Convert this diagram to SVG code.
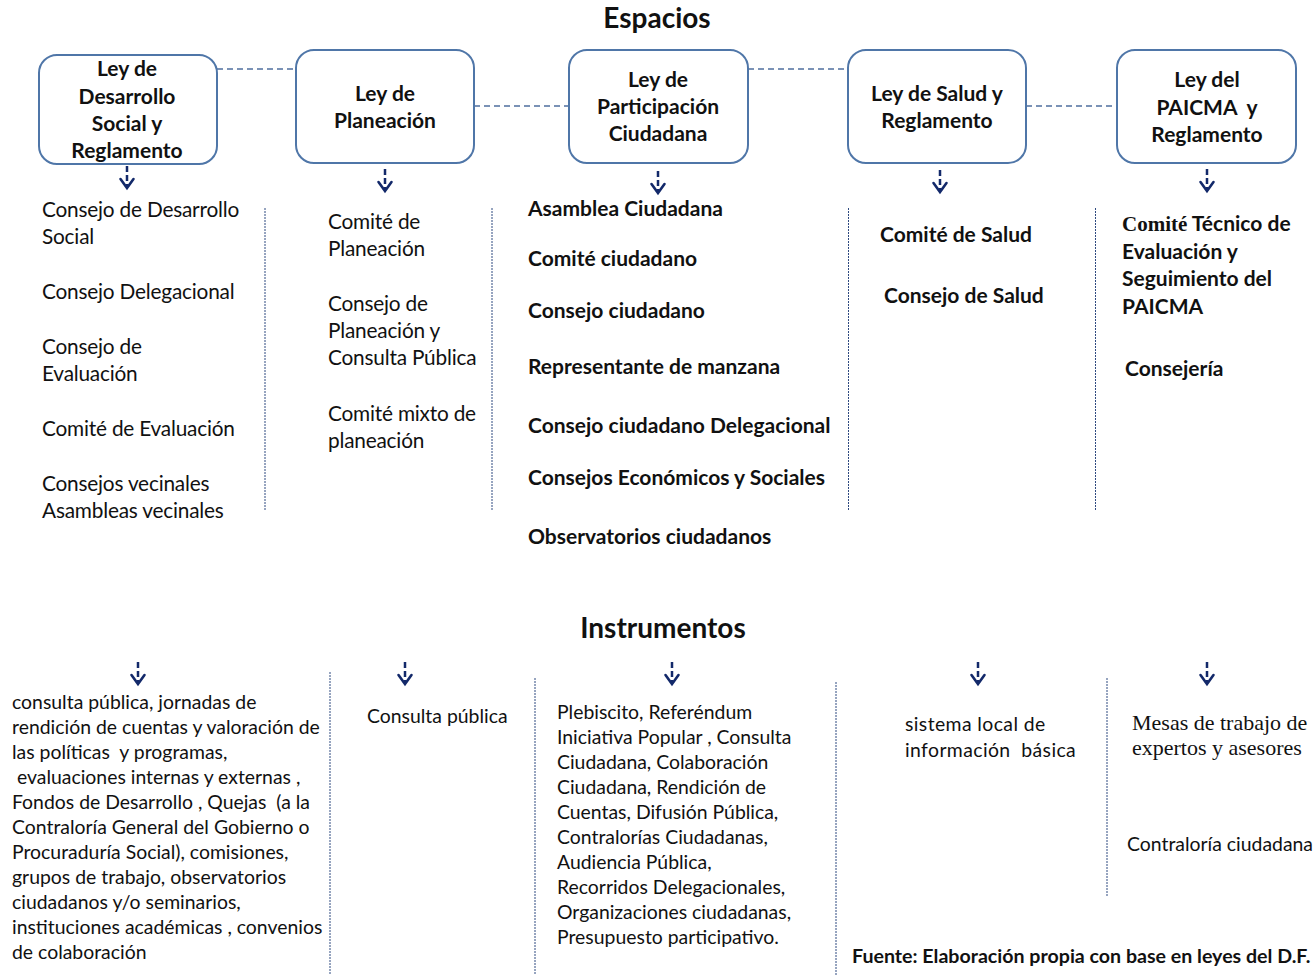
<svg xmlns="http://www.w3.org/2000/svg" width="1316" height="975" viewBox="0 0 1316 975">
  <defs>
    <style>
      .bg { fill: #ffffff; }
      .box { fill: #ffffff; stroke: #4f76a8; stroke-width: 2; }
      .link { stroke: #4f6f9e; stroke-width: 1.3; stroke-dasharray: 6 4; fill: none; }
      .sep { stroke: #2f4a80; stroke-width: 1; stroke-dasharray: 2 1; fill: none; }
      .stem { stroke: #13296a; stroke-width: 2.5; stroke-dasharray: 6 3; fill: none; }
      .head { stroke: #13296a; stroke-width: 2.6; fill: none; stroke-linecap: round; stroke-linejoin: miter; }
      .title { font-family: Lato, "Liberation Sans", sans-serif; font-weight: bold; font-size: 28px; fill: #111; text-anchor: middle; }
      .boxtxt { font-family: Lato, "Liberation Sans", sans-serif; font-weight: bold; font-size: 21px; fill: #111; text-anchor: middle; }
      .reg { font-family: Lato, "Liberation Sans", sans-serif; font-size: 20.8px; fill: #111; letter-spacing: -0.2px; }
      .bold { font-family: Lato, "Liberation Sans", sans-serif; font-weight: bold; font-size: 21px; fill: #111; }
      .small { font-family: Lato, "Liberation Sans", sans-serif; font-size: 19.4px; fill: #111; }
      .serif { font-family: "Liberation Serif", "DejaVu Serif", serif; font-size: 22px; fill: #111; }
      .note { font-family: Lato, "Liberation Sans", sans-serif; font-weight: bold; font-size: 19.6px; fill: #111; }
    </style>
    <g id="arrow">
      <line class="stem" x1="0" y1="0" x2="0" y2="20"/>
      <path class="head" d="M-6.5,13 L0,22 L6.5,13"/>
    </g>
  </defs>

  <rect class="bg" x="0" y="0" width="1316" height="975"/>

  <!-- section titles -->
  <text class="title" x="657" y="28">Espacios</text>
  <text class="title" x="663" y="638">Instrumentos</text>

  <!-- dashed links between the law boxes -->
  <g id="connectors">
    <line class="link" x1="217" y1="69" x2="296" y2="69"/>
    <line class="link" x1="474" y1="106" x2="569" y2="106"/>
    <line class="link" x1="748" y1="69" x2="848" y2="69"/>
    <line class="link" x1="1026" y1="106" x2="1117" y2="106"/>
    <!-- arrows from boxes to spaces -->
    <use href="#arrow" x="127" y="166"/>
    <use href="#arrow" x="385" y="169"/>
    <use href="#arrow" x="658" y="171"/>
    <use href="#arrow" x="940" y="170"/>
    <use href="#arrow" x="1207" y="169"/>
    <!-- arrows to instruments -->
    <use href="#arrow" x="138" y="662"/>
    <use href="#arrow" x="405" y="662"/>
    <use href="#arrow" x="672" y="662"/>
    <use href="#arrow" x="978" y="662"/>
    <use href="#arrow" x="1207" y="662"/>
  </g>

  <!-- column separators -->
  <g id="separators">
    <line class="sep" x1="265" y1="208" x2="265" y2="510"/>
    <line class="sep" x1="492" y1="208" x2="492" y2="510"/>
    <line class="sep" x1="848.5" y1="208" x2="848.5" y2="510"/>
    <line class="sep" x1="1095.5" y1="208" x2="1095.5" y2="510"/>
    <line class="sep" x1="330" y1="672" x2="330" y2="975"/>
    <line class="sep" x1="535" y1="678" x2="535" y2="975"/>
    <line class="sep" x1="836" y1="682" x2="836" y2="975"/>
    <line class="sep" x1="1107" y1="678" x2="1107" y2="897"/>
  </g>

  <!-- law boxes -->
  <g id="ley-desarrollo-social">
    <rect class="box" x="39" y="55" width="178" height="109" rx="18"/>
    <text class="boxtxt" x="127" y="76">Ley de</text>
    <text class="boxtxt" x="127" y="104">Desarrollo</text>
    <text class="boxtxt" x="127" y="131">Social y</text>
    <text class="boxtxt" x="127" y="158">Reglamento</text>
  </g>
  <g id="ley-planeacion">
    <rect class="box" x="296" y="50" width="178" height="113" rx="18"/>
    <text class="boxtxt" x="385" y="101">Ley de</text>
    <text class="boxtxt" x="385" y="128">Planeación</text>
  </g>
  <g id="ley-participacion">
    <rect class="box" x="569" y="50" width="179" height="113" rx="18"/>
    <text class="boxtxt" x="658" y="87">Ley de</text>
    <text class="boxtxt" x="658" y="114">Participación</text>
    <text class="boxtxt" x="658" y="141">Ciudadana</text>
  </g>
  <g id="ley-salud">
    <rect class="box" x="848" y="50" width="178" height="113" rx="18"/>
    <text class="boxtxt" x="937" y="101">Ley de Salud y</text>
    <text class="boxtxt" x="937" y="128">Reglamento</text>
  </g>
  <g id="ley-paicma">
    <rect class="box" x="1117" y="50" width="179" height="113" rx="18"/>
    <text class="boxtxt" x="1207" y="87">Ley del</text>
    <text class="boxtxt" x="1207" y="115" xml:space="preserve">PAICMA  y</text>
    <text class="boxtxt" x="1207" y="142">Reglamento</text>
  </g>

  <!-- spaces per law -->
  <g id="espacios-desarrollo-social">
    <text class="reg" x="42" y="217">Consejo de Desarrollo</text>
    <text class="reg" x="42" y="244">Social</text>
    <text class="reg" x="42" y="299">Consejo Delegacional</text>
    <text class="reg" x="42" y="354">Consejo de</text>
    <text class="reg" x="42" y="381">Evaluación</text>
    <text class="reg" x="42" y="436">Comité de Evaluación</text>
    <text class="reg" x="42" y="491">Consejos vecinales</text>
    <text class="reg" x="42" y="518">Asambleas vecinales</text>
  </g>
  <g id="espacios-planeacion">
    <text class="reg" x="328" y="229">Comité de</text>
    <text class="reg" x="328" y="256">Planeación</text>
    <text class="reg" x="328" y="311">Consejo de</text>
    <text class="reg" x="328" y="338">Planeación y</text>
    <text class="reg" x="328" y="365">Consulta Pública</text>
    <text class="reg" x="328" y="421">Comité mixto de</text>
    <text class="reg" x="328" y="448">planeación</text>
  </g>
  <g id="espacios-participacion">
    <text class="bold" x="528" y="216">Asamblea Ciudadana</text>
    <text class="bold" x="528" y="266">Comité ciudadano</text>
    <text class="bold" x="528" y="318">Consejo ciudadano</text>
    <text class="bold" x="528" y="374">Representante de manzana</text>
    <text class="bold" x="528" y="433">Consejo ciudadano Delegacional</text>
    <text class="bold" x="528" y="485">Consejos Económicos y Sociales</text>
    <text class="bold" x="528" y="544">Observatorios ciudadanos</text>
  </g>
  <g id="espacios-salud">
    <text class="bold" x="880" y="242">Comité de Salud</text>
    <text class="bold" x="884" y="303">Consejo de Salud</text>
  </g>
  <g id="espacios-paicma">
    <text class="bold" x="1122" y="231"><tspan font-family="'Liberation Serif', serif">Comité</tspan> Técnico de</text>
    <text class="bold" x="1122" y="259">Evaluación y</text>
    <text class="bold" x="1122" y="286">Seguimiento del</text>
    <text class="bold" x="1122" y="314">PAICMA</text>
    <text class="bold" x="1125" y="376">Consejería</text>
  </g>

  <!-- instruments per law -->
  <g id="instrumentos-desarrollo-social">
    <text class="small" x="12" y="709">consulta pública, jornadas de</text>
    <text class="small" x="12" y="734">rendición de cuentas y valoración de</text>
    <text class="small" x="12" y="759" xml:space="preserve">las políticas  y programas,</text>
    <text class="small" x="12" y="784" xml:space="preserve"> evaluaciones internas y externas ,</text>
    <text class="small" x="12" y="809" xml:space="preserve">Fondos de Desarrollo , Quejas  (a la</text>
    <text class="small" x="12" y="834">Contraloría General del Gobierno o</text>
    <text class="small" x="12" y="859">Procuraduría Social), comisiones,</text>
    <text class="small" x="12" y="884">grupos de trabajo, observatorios</text>
    <text class="small" x="12" y="909">ciudadanos y/o seminarios,</text>
    <text class="small" x="12" y="934">instituciones académicas , convenios</text>
    <text class="small" x="12" y="959">de colaboración</text>
  </g>
  <g id="instrumentos-planeacion">
    <text class="small" x="367" y="723">Consulta pública</text>
  </g>
  <g id="instrumentos-participacion">
    <text class="small" x="557" y="719">Plebiscito, Referéndum</text>
    <text class="small" x="557" y="744">Iniciativa Popular , Consulta</text>
    <text class="small" x="557" y="769">Ciudadana, Colaboración</text>
    <text class="small" x="557" y="794">Ciudadana, Rendición de</text>
    <text class="small" x="557" y="819">Cuentas, Difusión Pública,</text>
    <text class="small" x="557" y="844">Contralorías Ciudadanas,</text>
    <text class="small" x="557" y="869">Audiencia Pública,</text>
    <text class="small" x="557" y="894">Recorridos Delegacionales,</text>
    <text class="small" x="557" y="919">Organizaciones ciudadanas,</text>
    <text class="small" x="557" y="944">Presupuesto participativo.</text>
  </g>
  <g id="instrumentos-salud">
    <text class="small" x="905" y="731" font-size="22" letter-spacing="0.4">sistema local de</text>
    <text class="small" x="905" y="757" font-size="22" letter-spacing="0.4" xml:space="preserve">información  básica</text>
  </g>
  <g id="instrumentos-paicma">
    <text class="serif" x="1132" y="730">Mesas de trabajo de</text>
    <text class="serif" x="1132" y="755">expertos y asesores</text>
    <text class="small" x="1127" y="851">Contraloría ciudadana</text>
  </g>

  <!-- source note -->
  <text class="note" x="852" y="963">Fuente: Elaboración propia con base en leyes del D.F.</text>
</svg>
